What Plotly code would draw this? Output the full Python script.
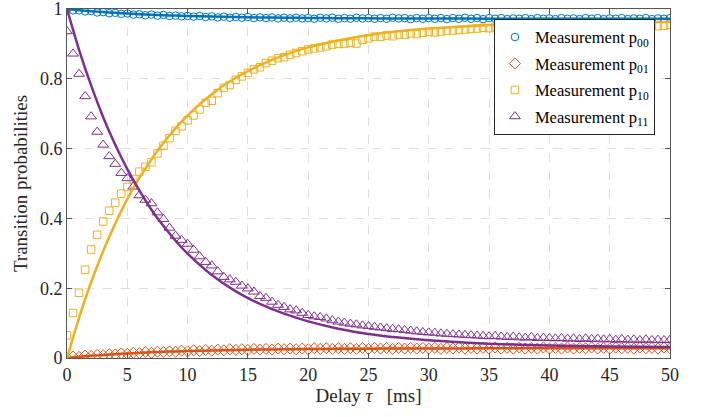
import plotly.graph_objects as go

# ---------------- data ----------------
delay_ms = [
    0.0, 0.5, 1.0, 1.5, 2.0, 2.5, 3.0, 3.5, 4.0, 4.5,
    5.0, 5.5, 6.0, 6.5, 7.0, 7.5, 8.0, 8.5, 9.0, 9.5,
    10.0, 10.5, 11.0, 11.5, 12.0, 12.5, 13.0, 13.5, 14.0, 14.5,
    15.0, 15.5, 16.0, 16.5, 17.0, 17.5, 18.0, 18.5, 19.0, 19.5,
    20.0, 20.5, 21.0, 21.5, 22.0, 22.5, 23.0, 23.5, 24.0, 24.5,
    25.0, 25.5, 26.0, 26.5, 27.0, 27.5, 28.0, 28.5, 29.0, 29.5,
    30.0, 30.5, 31.0, 31.5, 32.0, 32.5, 33.0, 33.5, 34.0, 34.5,
    35.0, 35.5, 36.0, 36.5, 37.0, 37.5, 38.0, 38.5, 39.0, 39.5,
    40.0, 40.5, 41.0, 41.5, 42.0, 42.5, 43.0, 43.5, 44.0, 44.5,
    45.0, 45.5, 46.0, 46.5, 47.0, 47.5, 48.0, 48.5, 49.0, 49.5,
    50.0,
]

p00_meas = [
    1.000, 0.996, 0.996, 0.993, 0.994, 0.990, 0.991, 0.988, 0.989, 0.986,
    0.987, 0.984, 0.985, 0.982, 0.984, 0.981, 0.983, 0.980, 0.981, 0.979,
    0.980, 0.978, 0.980, 0.977, 0.979, 0.976, 0.978, 0.975, 0.977, 0.975,
    0.977, 0.974, 0.976, 0.974, 0.976, 0.973, 0.975, 0.973, 0.975, 0.973,
    0.974, 0.972, 0.975, 0.973, 0.975, 0.972, 0.974, 0.972, 0.975, 0.973,
    0.974, 0.972, 0.974, 0.972, 0.975, 0.973, 0.974, 0.971, 0.974, 0.972,
    0.974, 0.972, 0.974, 0.971, 0.974, 0.972, 0.975, 0.972, 0.974, 0.971,
    0.974, 0.972, 0.974, 0.971, 0.973, 0.972, 0.974, 0.971, 0.974, 0.972,
    0.973, 0.971, 0.974, 0.972, 0.973, 0.971, 0.974, 0.972, 0.974, 0.971,
    0.973, 0.972, 0.974, 0.971, 0.973, 0.972, 0.974, 0.971, 0.973, 0.972,
    0.974,
]

p01_meas = [
    0.000, 0.004, 0.003, 0.007, 0.006, 0.009, 0.008, 0.011, 0.010, 0.013,
    0.012, 0.015, 0.014, 0.017, 0.015, 0.018, 0.017, 0.019, 0.018, 0.021,
    0.019, 0.022, 0.020, 0.023, 0.021, 0.024, 0.022, 0.025, 0.023, 0.025,
    0.023, 0.026, 0.024, 0.026, 0.024, 0.027, 0.025, 0.027, 0.025, 0.027,
    0.025, 0.028, 0.026, 0.028, 0.026, 0.028, 0.026, 0.028, 0.026, 0.029,
    0.026, 0.029, 0.027, 0.029, 0.026, 0.029, 0.027, 0.029, 0.027, 0.029,
    0.027, 0.029, 0.026, 0.029, 0.027, 0.030, 0.027, 0.029, 0.027, 0.029,
    0.027, 0.030, 0.027, 0.029, 0.027, 0.030, 0.027, 0.029, 0.027, 0.030,
    0.027, 0.029, 0.027, 0.030, 0.027, 0.029, 0.028, 0.030, 0.027, 0.029,
    0.027, 0.030, 0.028, 0.029, 0.027, 0.030, 0.028, 0.029, 0.027, 0.030,
    0.028,
]

p10_meas = [
    0.065, 0.129, 0.187, 0.253, 0.311, 0.353, 0.391, 0.422, 0.445, 0.471,
    0.490, 0.513, 0.534, 0.548, 0.561, 0.586, 0.608, 0.630, 0.651, 0.664,
    0.681, 0.695, 0.712, 0.731, 0.737, 0.759, 0.774, 0.782, 0.797, 0.807,
    0.817, 0.827, 0.833, 0.845, 0.852, 0.859, 0.862, 0.869, 0.874, 0.879,
    0.884, 0.887, 0.890, 0.893, 0.898, 0.900, 0.900, 0.903, 0.901, 0.912,
    0.916, 0.921, 0.920, 0.924, 0.922, 0.927, 0.926, 0.930, 0.928, 0.932,
    0.934, 0.933, 0.936, 0.937, 0.938, 0.940, 0.941, 0.943, 0.944, 0.946,
    0.945, 0.947, 0.946, 0.948, 0.947, 0.949, 0.948, 0.949, 0.948, 0.950,
    0.949, 0.950, 0.949, 0.951, 0.950, 0.951, 0.950, 0.952, 0.950, 0.952,
    0.951, 0.952, 0.951, 0.953, 0.951, 0.953, 0.952, 0.953, 0.951, 0.952,
    0.955,
]

p11_meas = [
    0.936, 0.872, 0.814, 0.750, 0.692, 0.648, 0.611, 0.578, 0.556, 0.530,
    0.515, 0.491, 0.466, 0.453, 0.443, 0.417, 0.398, 0.373, 0.350, 0.338,
    0.327, 0.310, 0.291, 0.275, 0.265, 0.248, 0.232, 0.225, 0.218, 0.207,
    0.199, 0.190, 0.177, 0.172, 0.161, 0.152, 0.146, 0.139, 0.136, 0.129,
    0.123, 0.119, 0.117, 0.113, 0.108, 0.104, 0.101, 0.098, 0.096, 0.093,
    0.091, 0.089, 0.087, 0.085, 0.083, 0.082, 0.080, 0.078, 0.076, 0.074,
    0.073, 0.072, 0.070, 0.069, 0.068, 0.067, 0.066, 0.065, 0.064, 0.063,
    0.062, 0.063, 0.061, 0.060, 0.061, 0.059, 0.058, 0.060, 0.057, 0.058,
    0.057, 0.056, 0.057, 0.055, 0.056, 0.054, 0.056, 0.054, 0.055, 0.053,
    0.054, 0.052, 0.054, 0.052, 0.053, 0.051, 0.053, 0.051, 0.052, 0.051,
    0.052,
]

fit_delay_ms = [0, 1, 2, 3, 4, 5, 6, 7, 8, 9, 10, 12, 14, 16, 18, 20,
                22.5, 25, 27.5, 30, 35, 40, 45, 50]
p00_fit = [1.000, 0.9967, 0.9938, 0.9912, 0.9890, 0.9870, 0.9852, 0.9837,
           0.9823, 0.9811, 0.9800, 0.9782, 0.9769, 0.9758, 0.9750, 0.9743,
           0.9737, 0.9732, 0.9729, 0.9727, 0.9724, 0.9722, 0.9721, 0.9721]
p01_fit = [0.0, 0.0033, 0.0062, 0.0088, 0.0110, 0.0130, 0.0148, 0.0163,
           0.0177, 0.0189, 0.0200, 0.0218, 0.0231, 0.0242, 0.0250, 0.0257,
           0.0263, 0.0268, 0.0271, 0.0273, 0.0276, 0.0278, 0.0279, 0.0279]
p10_fit = [0.0, 0.115, 0.217, 0.306, 0.385, 0.455, 0.516, 0.569, 0.617,
           0.658, 0.695, 0.756, 0.803, 0.839, 0.868, 0.890, 0.910, 0.925,
           0.936, 0.944, 0.954, 0.959, 0.962, 0.963]
p11_fit = [1.0, 0.883, 0.781, 0.690, 0.611, 0.541, 0.480, 0.425, 0.378,
           0.336, 0.299, 0.238, 0.191, 0.155, 0.127, 0.105, 0.084, 0.069,
           0.0585, 0.0507, 0.041, 0.0357, 0.033, 0.0316]

x_ticks = [0, 5, 10, 15, 20, 25, 30, 35, 40, 45, 50]
y_ticks = [0, 0.2, 0.4, 0.6, 0.8, 1]
y_tick_labels = ["0", "0.2", "0.4", "0.6", "0.8", "1"]

# ---------------- style ----------------
C_BLUE = "#0072BD"
C_ORANGE = "#D95319"
C_YELLOW = "#EDB120"
C_PURPLE = "#7E2F8E"
FONT = "Liberation Serif, Times New Roman, serif"
TXT = "#262626"

fig = go.Figure()

meas = [
    (p00_meas, C_BLUE, "circle-open", 7.5, "Measurement p<sub>00</sub>"),
    (p01_meas, C_ORANGE, "diamond-open", 8.5, "Measurement p<sub>01</sub>"),
    (p10_meas, C_YELLOW, "square-open", 7.5, "Measurement p<sub>10</sub>"),
    (p11_meas, C_PURPLE, "triangle-up-open", 9.5, "Measurement p<sub>11</sub>"),
]
for i, (ys, col, sym, sz, name) in enumerate(meas):
    fig.add_trace(go.Scatter(
        x=delay_ms, y=ys, mode="markers", name=name, legendgroup=f"g{i}",
        marker=dict(symbol=sym, size=sz, color=col, line=dict(width=1, color=col)),
    ))

for ys, col in [(p00_fit, C_BLUE), (p01_fit, C_ORANGE), (p10_fit, C_YELLOW), (p11_fit, C_PURPLE)]:
    fig.add_trace(go.Scatter(
        x=fit_delay_ms, y=ys, mode="lines", showlegend=False,
        line=dict(color=col, width=2.5, shape="spline", smoothing=0.6),
    ))

axis_common = dict(
    showline=True, linecolor="#555555", linewidth=1, mirror="ticks",
    ticks="inside", ticklen=5, tickcolor="#555555",
    showgrid=True, gridcolor="#dedede", griddash="dash", gridwidth=1,
    zeroline=False, ticklabeloverflow="allow", automargin=False,
    tickfont=dict(family=FONT, size=18, color=TXT),
)

fig.update_xaxes(
    range=[0, 50], tickvals=x_ticks,
    title=dict(text="Delay <i>τ</i>\u00a0\u00a0\u00a0[ms]", font=dict(family=FONT, size=19, color=TXT), standoff=5),
    **axis_common,
)
fig.update_yaxes(
    range=[0, 1], tickvals=y_ticks, ticktext=y_tick_labels,
    title=dict(text="Transition probabilities", font=dict(family=FONT, size=19, color=TXT), standoff=7),
    **axis_common,
)

fig.update_layout(
    width=701, height=417,
    margin=dict(l=67, r=31, t=9, b=59, autoexpand=False),
    plot_bgcolor="white", paper_bgcolor="white",
    font=dict(family=FONT, color=TXT),
    legend=dict(
        x=0.975, y=0.972, xanchor="right", yanchor="top",
        bgcolor="white", bordercolor="#262626", borderwidth=1,
        font=dict(family=FONT, size=16.5, color="black"),
        tracegroupgap=2, itemwidth=30,
    ),
)

fig.write_html("out.html")
